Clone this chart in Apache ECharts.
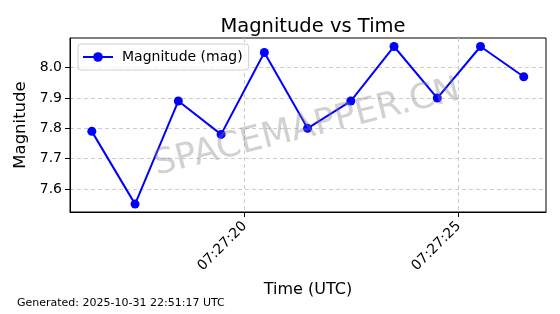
<!DOCTYPE html>
<html><head><meta charset="utf-8">
<script src="https://cdn.jsdelivr.net/npm/echarts@6/dist/echarts.min.js"></script>
<style>html,body{margin:0;padding:0;background:#fff}#c{width:560px;height:314px}</style>
</head><body><div id="c"></div>
<script>
const times = ["07:27:16.43","07:27:17.44","07:27:18.45","07:27:19.45","07:27:20.46","07:27:21.47","07:27:22.48","07:27:23.49","07:27:24.50","07:27:25.51","07:27:26.52"];
const magnitudes = [7.79, 7.55, 7.89, 7.78, 8.05, 7.80, 7.89, 8.07, 7.90, 8.07, 7.97];
const xTickLabels = ["07:27:20", "07:27:25"];
const yTicks = [7.6, 7.7, 7.8, 7.9, 8.0];
const xRange = ["07:27:15.92", "07:27:27.04"];
const yRange = [7.524, 8.098];

function toSec(s){const p=s.split(':');return (+p[0])*3600+(+p[1])*60+parseFloat(p[2]);}
function fmt(v){v=Math.round(v);const h=Math.floor(v/3600),m=Math.floor((v%3600)/60),s=v%60;const z=n=>String(n).padStart(2,'0');return z(h)+':'+z(m)+':'+z(s);}
const data = times.map((t,i)=>[toSec(t), magnitudes[i]]);
const xTicks = xTickLabels.map(toSec);
const F = 'DejaVu Sans';
const chart = echarts.init(document.getElementById('c'), null, {renderer:'canvas'});
chart.setOption({
  animation:false,
  textStyle:{fontFamily:F},
  title:{text:'Magnitude vs Time', left:308, top:12, textAlign:'center',
    textStyle:{fontFamily:F,fontSize:19.5,fontWeight:'normal',color:'#000'}},
  grid:{left:70, right:14, top:38, bottom:102, show:true, borderColor:'#000', borderWidth:1, backgroundColor:'transparent'},
  legend:{left:78, top:44, padding:[6,6,6,4], itemWidth:30, itemHeight:12, itemGap:8,
    borderColor:'#d0d0d0', borderWidth:1, borderRadius:3, backgroundColor:'rgba(255,255,255,0.8)',
    textStyle:{fontFamily:F,fontSize:14,color:'#000', padding:[0,0,0,4]}, data:['Magnitude (mag)']},
  xAxis:{type:'value', min:toSec(xRange[0]), max:toSec(xRange[1]),
    name:'Time (UTC)', nameLocation:'middle', nameGap:70,
    nameTextStyle:{fontFamily:F,fontSize:16,color:'#000'},
    axisLine:{show:true,onZero:false,lineStyle:{color:'#000',width:1}},
    axisTick:{show:true,length:5,inside:false,customValues:xTicks,lineStyle:{color:'#000'}},
    axisLabel:{customValues:xTicks,formatter:v=>fmt(v),rotate:45,margin:12,fontFamily:F,fontSize:14,color:'#000'},
    splitLine:{show:true,lineStyle:{color:'#cccccc',type:[4,3],width:1}}},
  yAxis:{type:'value', min:yRange[0], max:yRange[1],
    name:'Magnitude', nameLocation:'middle', nameGap:35, nameRotate:90,
    nameTextStyle:{fontFamily:F,fontSize:16.5,color:'#000'},
    axisLine:{show:true,lineStyle:{color:'#000',width:1}},
    axisTick:{show:true,length:5,customValues:yTicks,lineStyle:{color:'#000'}},
    axisLabel:{customValues:yTicks,formatter:v=>v.toFixed(1),margin:8,fontFamily:F,fontSize:14,color:'#000'},
    splitLine:{show:true,lineStyle:{color:'#cccccc',type:[4,3],width:1}}},
  graphic:[
    {type:'text', left:17, top:298, style:{text:'Generated: 2025-10-31 22:51:17 UTC', fontFamily:F, fontSize:11, fill:'#000'}},
    {type:'text', x:307, y:128, rotation:14*Math.PI/180, z:100,
      style:{text:'SPACEMAPPER.CN', fontFamily:F, fontSize:35, fill:'rgba(128,128,128,0.36)', align:'center', verticalAlign:'middle'}}
  ],
  series:[{name:'Magnitude (mag)', type:'line', data:data, symbol:'circle', symbolSize:9,
    itemStyle:{color:'#0000ff'}, lineStyle:{color:'#0000ff',width:2}}]
});
</script></body></html>
